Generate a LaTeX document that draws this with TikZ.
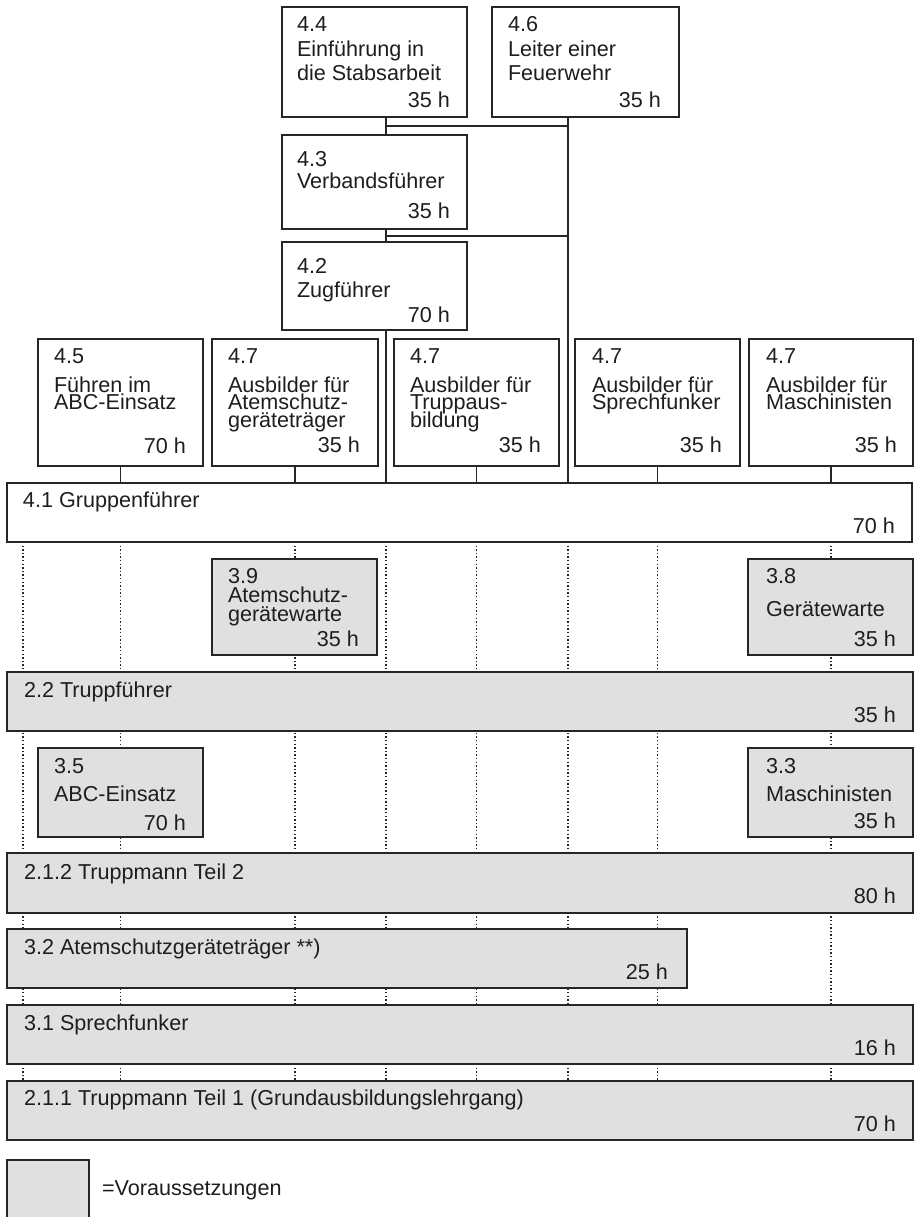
\documentclass[tikz,border=0pt]{standalone}
\usepackage{fontspec}
\setmainfont{Liberation Sans}
\usetikzlibrary{calc}
\definecolor{linec}{HTML}{262626}
\definecolor{txtc}{HTML}{1E1E1E}
\definecolor{boxgray}{HTML}{E0E0E0}
\newcommand\labf{\fontsize{21.6}{24}\selectfont}
\pgfdeclarelayer{bg}
\pgfsetlayers{bg,main}
\tikzset{
  box/.style={draw=linec, line width=2pt, fill=white, anchor=north west, inner sep=0pt, outer sep=0pt},
  pre/.style={box, fill=boxgray},
  t/.style={anchor=base west, inner sep=0pt, outer sep=0pt, font=\labf, text=txtc},
  hr/.style={anchor=base east, inner sep=0pt, outer sep=0pt, font=\labf, text=txtc},
  conn/.style={draw=linec, line width=1.3pt},
  dotl/.style={draw=linec, line width=1.3pt, dash pattern=on 1.3pt off 2.3pt},
}
\begin{document}
\begin{tikzpicture}[x=1pt,y=-1pt]
\useasboundingbox (0,0) rectangle (914,1217);
\clip (0,0) rectangle (914,1217);

% ---- top boxes ----
\node[box, minimum width=185pt, minimum height=110pt] (b44) at (282,7) {};
\node[t] (t44a) at (297,32) {4.4};
\node[t] (t44b) at (297,57) {Einführung in};
\node[t] (t44c) at (297,81) {die Stabsarbeit};
\node[hr] (h44) at (450,108) {35 h};

\node[box, minimum width=187pt, minimum height=110pt] (b46) at (492,7) {};
\node[t] (t46a) at (508,32) {4.6};
\node[t] (t46b) at (508,57) {Leiter einer};
\node[t] (t46c) at (508,81) {Feuerwehr};
\node[hr] (h46) at (661,108) {35 h};

\node[box, minimum width=185pt, minimum height=94pt] (b43) at (282,135) {};
\node[t] (t43a) at (297,167) {4.3};
\node[t] (t43b) at (297,189) {Verbandsführer};
\node[hr] (h43) at (450,218) {35 h};

\node[box, minimum width=185pt, minimum height=88pt] (b42) at (282,242) {};
\node[t] (t42a) at (297,273) {4.2};
\node[t] (t42b) at (297,297) {Zugführer};
\node[hr] (h42) at (450,322) {70 h};

% ---- row of 4.x boxes ----
\node[box, minimum width=165pt, minimum height=127pt] (b45) at (38,339) {};
\node[t] (t45a) at (54,363) {4.5};
\node[t] (t45b) at (54,392) {Führen im};
\node[t] (t45c) at (54,409) {ABC-Einsatz};
\node[hr] (h45) at (186,453) {70 h};

\node[box, minimum width=166pt, minimum height=127pt] (b47a) at (212,339) {};
\node[t] (t47aa) at (228,363) {4.7};
\node[t] (t47ab) at (228,392) {Ausbilder für};
\node[t] (t47ac) at (228,409) {Atemschutz-};
\node[t] (t47ad) at (228,427) {geräteträger};
\node[hr] (h47a) at (360,452) {35 h};

\node[box, minimum width=165pt, minimum height=127pt] (b47b) at (394,339) {};
\node[t] (t47ba) at (410,363) {4.7};
\node[t] (t47bb) at (410,392) {Ausbilder für};
\node[t] (t47bc) at (410,409) {Truppaus-};
\node[t] (t47bd) at (410,427) {bildung};
\node[hr] (h47b) at (541,452) {35 h};

\node[box, minimum width=165pt, minimum height=127pt] (b47c) at (575,339) {};
\node[t] (t47ca) at (592,363) {4.7};
\node[t] (t47cb) at (592,392) {Ausbilder für};
\node[t] (t47cc) at (592,409) {Sprechfunker};
\node[hr] (h47c) at (722,452) {35 h};

\node[box, minimum width=164pt, minimum height=127pt] (b47d) at (749,339) {};
\node[t] (t47da) at (766,363) {4.7};
\node[t] (t47db) at (766,392) {Ausbilder für};
\node[t] (t47dc) at (766,409) {Maschinisten};
\node[hr] (h47d) at (897,452) {35 h};

% ---- 4.1 ----
\node[box, minimum width=905pt, minimum height=59pt] (b41) at (7,483) {};
\node[t] (t41) at (23,507) {4.1 Gruppenführer};
\node[hr] (h41) at (895,533) {70 h};

% ---- prerequisite boxes ----
\node[pre, minimum width=165pt, minimum height=96pt] (b39) at (212,559) {};
\node[t] (t39a) at (228,583) {3.9};
\node[t] (t39b) at (228,602) {Atemschutz-};
\node[t] (t39c) at (228,621) {gerätewarte};
\node[hr] (h39) at (359,646) {35 h};

\node[pre, minimum width=165pt, minimum height=96pt] (b38) at (748,559) {};
\node[t] (t38a) at (766,583) {3.8};
\node[t] (t38b) at (766,616) {Gerätewarte};
\node[hr] (h38) at (896,646) {35 h};

\node[pre, minimum width=906pt, minimum height=59pt] (b22) at (7,672) {};
\node[t] (t22) at (24,697) {2.2 Truppführer};
\node[hr] (h22) at (896,722) {35 h};

\node[pre, minimum width=165pt, minimum height=89pt] (b35) at (38,748) {};
\node[t] (t35a) at (54,773) {3.5};
\node[t] (t35b) at (54,801) {ABC-Einsatz};
\node[hr] (h35) at (186,830) {70 h};

\node[pre, minimum width=165pt, minimum height=89pt] (b33) at (748,748) {};
\node[t] (t33a) at (766,773) {3.3};
\node[t] (t33b) at (766,801) {Maschinisten};
\node[hr] (h33) at (896,828) {35 h};

\node[pre, minimum width=906pt, minimum height=60pt] (b212) at (7,853) {};
\node[t] (t212) at (24,879) {2.1.2 Truppmann Teil 2};
\node[hr] (h212) at (896,903) {80 h};

\node[pre, minimum width=680pt, minimum height=59pt] (b32) at (7,929) {};
\node[t] (t32) at (24,954) {3.2 Atemschutzgeräteträger **)};
\node[hr] (h32) at (668,979) {25 h};

\node[pre, minimum width=906pt, minimum height=59pt] (b31) at (7,1005) {};
\node[t] (t31) at (24,1030) {3.1 Sprechfunker};
\node[hr] (h31) at (896,1055) {16 h};

\node[pre, minimum width=906pt, minimum height=59pt] (b211) at (7,1081) {};
\node[t] (t211) at (24,1105) {2.1.1 Truppmann Teil 1 (Grundausbildungslehrgang)};
\node[hr] (h211) at (896,1131) {70 h};

% ---- legend ----
\node[pre, minimum width=82pt, minimum height=80pt] (leg) at (7,1160) {};
\node[t] (legt) at (102,1195) {=Voraussetzungen};

% ---- connectors and dotted guide lines ----
\begin{pgfonlayer}{bg}
  \coordinate (sp) at ([xshift=104pt]b44.south west);
  \coordinate (sr) at ([xshift=76pt]b46.south west);
  \coordinate (m1) at ($(sp)+(0,9)$);
  \coordinate (m2) at ($(sp |- b43.south)+(0,7)$);
  \draw[conn] (sp) -- (sp |- b43.north);
  \draw[conn] (sp |- b43.south) -- (sp |- b42.north);
  \draw[conn] (sp |- b42.south) -- (sp |- b41.north);
  \draw[conn] (sr) -- (sr |- b41.north);
  \draw[conn] (m1) -- (m1 -| sr);
  \draw[conn] (m2) -- (m2 -| sr);
  \foreach \n in {b45,b47a,b47b,b47c,b47d}
    \draw[conn] (\n.south) -- (\n.south |- b41.north);
  \coordinate (c0) at ([xshift=16pt]b41.south west);
  \draw[dotl] (c0) -- (c0 |- b211.north);
  \foreach \n in {b45,b47a,b47b,b47c,b47d}
    \draw[dotl] (\n.south |- b41.south) -- (\n.south |- b211.north);
  \draw[dotl] (sp |- b41.south) -- (sp |- b211.north);
  \draw[dotl] (sr |- b41.south) -- (sr |- b211.north);
\end{pgfonlayer}
\end{tikzpicture}
\end{document}
